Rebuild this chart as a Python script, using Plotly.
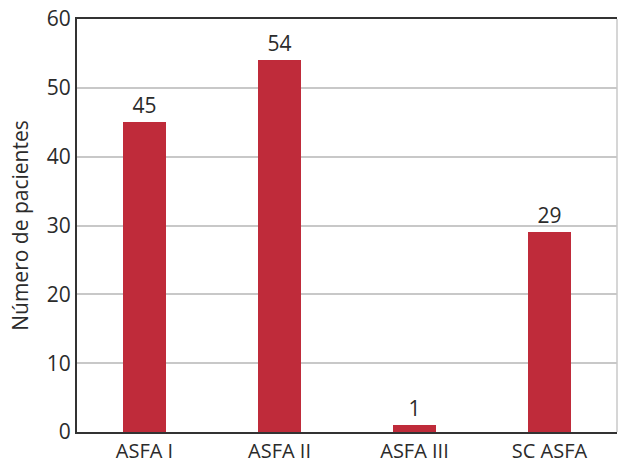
import plotly.graph_objects as go

categories = ["ASFA I", "ASFA II", "ASFA III", "SC ASFA"]
values = [45, 54, 1, 29]

bar_color = "#BF2B3A"
text_color = "#2B2B2B"

fig = go.Figure()
fig.add_trace(go.Bar(
    x=categories, y=values, width=0.32,
    marker=dict(color=bar_color, line=dict(width=0)),
    text=[str(v) for v in values], textposition="outside",
    textfont=dict(size=21, color=text_color, family="Open Sans"),
    cliponaxis=False,
))

fig.update_layout(
    width=618, height=463,
    margin=dict(l=77, r=1, t=19, b=31),
    plot_bgcolor="white", paper_bgcolor="white",
    font=dict(family="Open Sans", size=21, color=text_color),
    showlegend=False,
    bargap=0,
)
fig.update_xaxes(
    range=[-0.5, 3.5], showgrid=False, showline=True, linecolor="#333333",
    linewidth=2, mirror=True, ticks="", tickfont=dict(size=20),
    automargin=False, ticklabelstandoff=0,
)
fig.update_yaxes(
    range=[0, 60], dtick=10, showgrid=True, gridcolor="#C8C8C8", gridwidth=1.5,
    showline=True, linecolor="#333333", linewidth=2, ticks="",
    zeroline=False, tickfont=dict(size=21), automargin=False,
    title=dict(text="Número de pacientes", font=dict(size=21), standoff=12),
)
fig.add_shape(type="line", xref="paper", yref="paper", x0=1, x1=1, y0=0, y1=1,
              line=dict(color="#C8C8C8", width=1.5))

fig.write_html("out.html")
